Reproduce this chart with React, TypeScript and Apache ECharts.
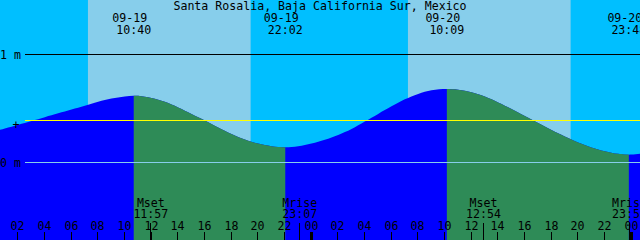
import React, { useEffect, useRef } from "react";
import * as echarts from "echarts";

const chartTitle = "Santa Rosalia, Baja California Sur, Mexico";
const FIRST_DAY = 19;

// Tide heights (m), hours counted from 09-19 00:00
const tideHours = [
  0, 1, 2, 3, 4, 5, 6, 7, 8, 9, 10, 11, 12, 13, 14, 15, 16, 17, 18, 19, 20, 21, 22, 23, 24,
  25, 26, 27, 28, 29, 30, 31, 32, 33, 34, 35, 36, 37, 38, 39, 40, 41, 42, 43, 44, 45, 46, 47, 48, 49,
];
const tideHeights = [
  0.28, 0.315, 0.35, 0.385, 0.42, 0.455, 0.49, 0.525, 0.562, 0.592, 0.612, 0.617, 0.597, 0.562,
  0.51, 0.45, 0.39, 0.325, 0.265, 0.213, 0.175, 0.151, 0.141, 0.15, 0.175, 0.21, 0.255, 0.31,
  0.38, 0.45, 0.52, 0.585, 0.635, 0.668, 0.679, 0.674, 0.65, 0.61, 0.555, 0.495, 0.43, 0.365,
  0.3, 0.24, 0.185, 0.14, 0.105, 0.08, 0.073, 0.085,
];

// High / low tides
const extremeDates = ["09-19", "09-19", "09-20", "09-20"];
const extremeTimes = ["10:40", "22:02", "10:09", "23:48"];
const extremeHeights = [0.619, 0.141, 0.68, 0.072];

// Daylight
const sunDates = ["09-19", "09-20"];
const sunriseTimes = ["07:14", "07:14"];
const sunsetTimes = ["19:26", "19:26"];

// Moon events
const moonDates = ["09-19", "09-19", "09-20", "09-20"];
const moonKinds = ["Mset", "Mrise", "Mset", "Mrise"];
const moonTimes = ["11:57", "23:07", "12:54", "23:51"];

// Hour ticks
const tickHours = [2, 4, 6, 8, 10, 12, 14, 16, 18, 20, 22, 24, 26, 28, 30, 32, 34, 36, 38, 40, 42, 44, 46, 48];
const tickLabels = [
  "02", "04", "06", "08", "10", "12", "14", "16", "18", "20", "22", "00",
  "02", "04", "06", "08", "10", "12", "14", "16", "18", "20", "22", "00",
];

// Reference levels
const levelValues = [1, 0.389, 0];
const levelLabels = ["1 m", "+", "0 m"];
const levelColors = ["#000000", "#ffff00", "#87ceeb"];

const VIEW_START = 0.6375;
const VIEW_END = 48.6375;
const Y_MIN = -0.7176;
const Y_MAX = 1.5046;

const FONT = 'normal 11.6px "DejaVu Sans Mono"';
const NIGHT = "#00bfff";
const DAY = "#87ceeb";
const RISING = "#0000ff";
const FALLING = "#2e8b57";

function toHours(date: string, time: string): number {
  const d = parseInt(date.slice(3), 10);
  const [h, m] = time.split(":").map(Number);
  return (d - FIRST_DAY) * 24 + h + m / 60;
}

function txt(text: string, x: number, y: number, align = "center") {
  return {
    type: "text",
    x,
    y,
    style: { text, fill: "#000", font: FONT, lineHeight: 11, align, verticalAlign: "middle" },
  };
}

function buildOption() {
  const extremeHours = extremeDates.map((d, i) => toHours(d, extremeTimes[i]));
  const pts: number[][] = [];
  tideHours.forEach((h, i) => {
    if (extremeHours.every((e) => Math.abs(e - h) > 0.18)) pts.push([h, tideHeights[i]]);
  });
  extremeHours.forEach((h, i) => pts.push([h, extremeHeights[i]]));
  pts.sort((a, b) => a[0] - b[0]);

  const bounds = [-Infinity, ...extremeHours, Infinity];
  const tideSeries: any[] = [
    {
      type: "line",
      z: 2,
      silent: true,
      data: pts,
      smooth: 0.35,
      symbol: "none",
      lineStyle: { width: 0 },
      areaStyle: { color: RISING, opacity: 1, origin: "start" },
      clip: true,
    },
  ];
  for (let i = 0; i < bounds.length - 1; i++) {
    const seg = pts.filter((p) => p[0] >= bounds[i] && p[0] <= bounds[i + 1]);
    const falling = seg[seg.length - 1][1] < seg[0][1];
    if (!falling) continue;
    tideSeries.push({
      type: "line",
      z: 3,
      silent: true,
      data: seg,
      smooth: 0.35,
      symbol: "none",
      lineStyle: { width: 0 },
      areaStyle: { color: FALLING, opacity: 1, origin: "start" },
      clip: true,
    });
  }

  const daySeries = {
    type: "custom",
    z: 1,
    silent: true,
    clip: true,
    data: sunDates.map((d, i) => [toHours(d, sunriseTimes[i]), toHours(d, sunsetTimes[i]), Y_MIN, Y_MAX]),
    encode: { x: [0, 1], y: [2, 3] },
    renderItem: (_p: any, api: any) => {
      const a = api.coord([api.value(0), Y_MAX]);
      const b = api.coord([api.value(1), Y_MIN]);
      return {
        type: "rect",
        shape: { x: a[0], y: a[1], width: b[0] - a[0], height: b[1] - a[1] },
        style: { fill: DAY },
      };
    },
  };

  const levelSeries = {
    type: "custom",
    z: 5,
    silent: true,
    clip: false,
    data: levelValues.map((v) => [VIEW_START, v]),
    encode: { x: 0, y: 1 },
    renderItem: (params: any, api: any) => {
      const i = params.dataIndex;
      const p = api.coord([VIEW_START, api.value(1)]);
      const y = Math.round(p[1] - 0.5) + 0.5;
      const label =
        levelLabels[i] === "+" ? txt(levelLabels[i], 16, y + 4.5) : txt(levelLabels[i], 0, y, "left");
      return {
        type: "group",
        children: [
          {
            type: "line",
            shape: { x1: 25, y1: y, x2: api.getWidth(), y2: y },
            style: { stroke: levelColors[i], lineWidth: 1 },
          },
          label,
        ],
      };
    },
  };

  const extremeSeries = {
    type: "custom",
    z: 6,
    silent: true,
    clip: false,
    data: extremeHours.map((h, i) => [h, extremeHeights[i]]),
    encode: { x: 0, y: 1 },
    renderItem: (params: any, api: any) => {
      const i = params.dataIndex;
      const p = api.coord([api.value(0), api.value(1)]);
      return {
        type: "group",
        children: [txt(extremeDates[i], p[0] - 4, 17.5), txt(extremeTimes[i], p[0], 29.5)],
      };
    },
  };

  const moonSeries = {
    type: "custom",
    z: 6,
    silent: true,
    clip: false,
    data: moonDates.map((d, i) => [toHours(d, moonTimes[i]), Y_MIN]),
    encode: { x: 0, y: 1 },
    renderItem: (params: any, api: any) => {
      const i = params.dataIndex;
      const p = api.coord([api.value(0), Y_MIN]);
      const x = Math.round(p[0]) - 0.5;
      return {
        type: "group",
        children: [
          { type: "line", shape: { x1: x, y1: 223, x2: x, y2: 240 }, style: { stroke: "#000", lineWidth: 1 } },
          txt(moonKinds[i], p[0], 202.5),
          txt(moonTimes[i], p[0], 213.5),
        ],
      };
    },
  };

  const tickSeries = {
    type: "custom",
    z: 7,
    silent: true,
    clip: false,
    data: tickHours.map((h) => [h, Y_MIN]),
    encode: { x: 0, y: 1 },
    renderItem: (params: any, api: any) => {
      const i = params.dataIndex;
      const h = api.value(0);
      const p = api.coord([h, Y_MIN]);
      const x = Math.round(p[0]) - 0.5;
      const midnight = h % 24 === 0;
      return {
        type: "group",
        children: [
          {
            type: "line",
            shape: { x1: x, y1: 232, x2: x, y2: 240 },
            style: { stroke: "#000", lineWidth: midnight ? 3 : 1 },
          },
          txt(tickLabels[i], x, 226),
        ],
      };
    },
  };

  return {
    animation: false,
    backgroundColor: NIGHT,
    title: {
      text: chartTitle,
      left: "center",
      top: 0,
      padding: 0,
      textStyle: {
        fontFamily: "DejaVu Sans Mono",
        fontSize: 11.6,
        fontWeight: "normal",
        color: "#000",
        lineHeight: 12,
      },
    },
    grid: { left: 0, right: 0, top: 0, bottom: 0, containLabel: false },
    xAxis: { type: "value", min: VIEW_START, max: VIEW_END, show: false },
    yAxis: { type: "value", min: Y_MIN, max: Y_MAX, show: false },
    series: [daySeries, ...tideSeries, levelSeries, extremeSeries, moonSeries, tickSeries],
  };
}

export default function App() {
  const ref = useRef<HTMLDivElement>(null);
  useEffect(() => {
    if (!ref.current) return;
    const chart = echarts.init(ref.current, null, { renderer: "svg" });
    chart.setOption(buildOption() as any);
    return () => chart.dispose();
  }, []);
  return <div ref={ref} style={{ position: "fixed", left: 0, top: 0, width: 640, height: 240 }} />;
}
